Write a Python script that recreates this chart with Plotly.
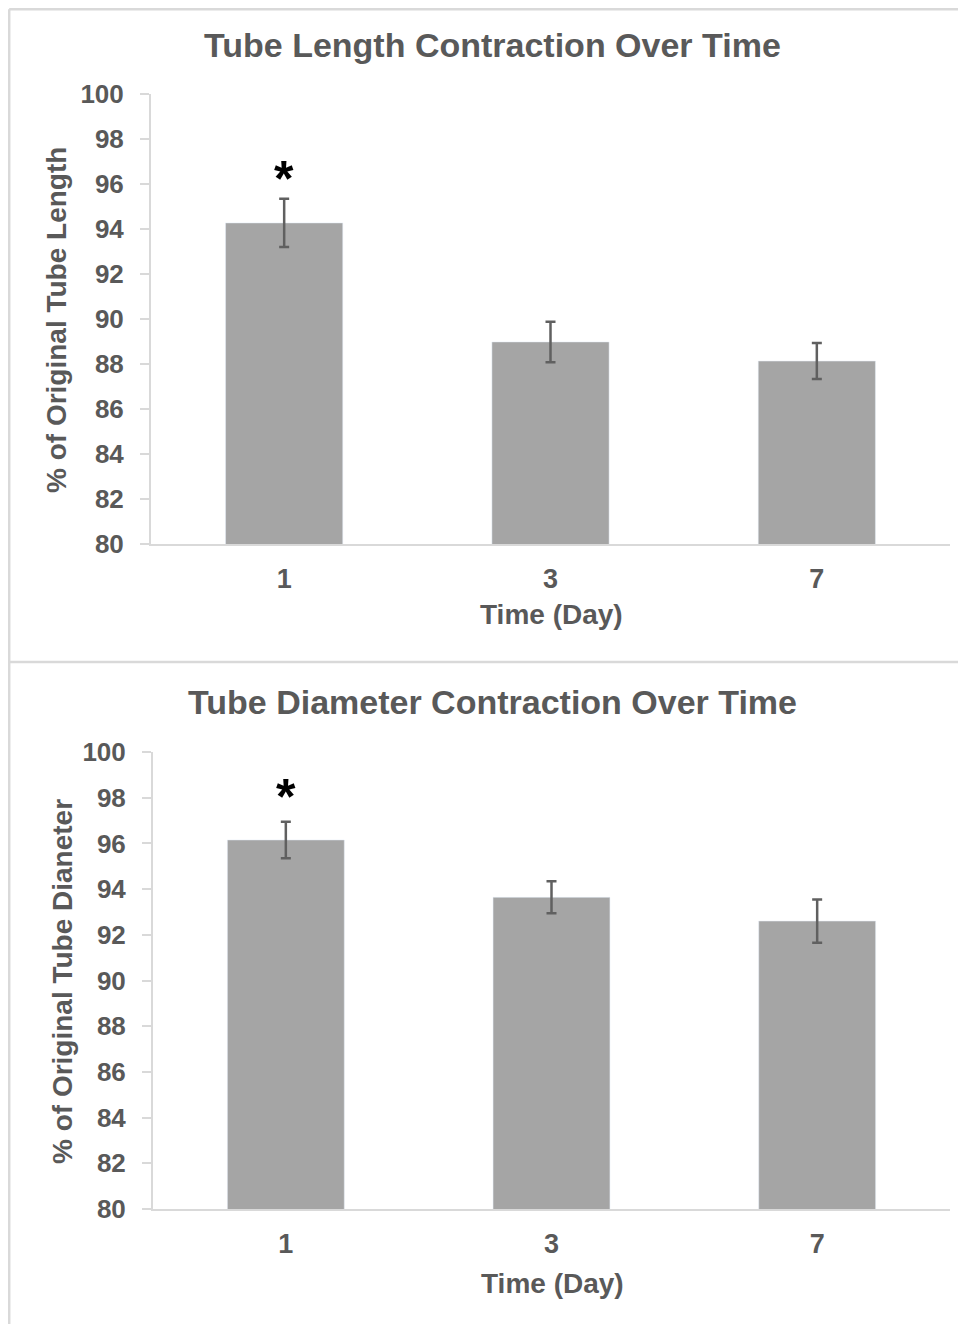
import plotly.graph_objects as go

days = ["1", "3", "7"]
length_pct = [94.27, 88.98, 88.13]
length_err = [1.07, 0.9, 0.8]
diam_pct = [96.15, 93.64, 92.6]
diam_err = [0.8, 0.7, 0.95]
y_ticks = [80, 82, 84, 86, 88, 90, 92, 94, 96, 98, 100]
sig_day = "1"

W, H = 966, 1324
OFF = 8  # page body margin
FONT = "Liberation Sans, Arial, sans-serif"
TXT = "#595959"
BAR = "#a5a5a5"
LINE = "#d9d9d9"
ERR = "#606060"


def px_x(x):
    return (x - OFF) / W


def px_y(y):
    return 1 - (y - OFF) / H


fig = go.Figure()
fig.add_trace(go.Bar(
    x=days, y=length_pct, marker_color=BAR, width=0.44,
    error_y=dict(type="data", array=length_err, color=ERR, thickness=2.5, width=5),
    xaxis="x", yaxis="y", showlegend=False))
fig.add_trace(go.Bar(
    x=days, y=diam_pct, marker_color=BAR, width=0.44,
    error_y=dict(type="data", array=diam_err, color=ERR, thickness=2.5, width=5),
    xaxis="x2", yaxis="y2", showlegend=False))

axis_y = dict(
    range=[80, 100], tickvals=y_ticks, showgrid=False, zeroline=False, automargin=False,
    showline=True, linecolor=LINE, linewidth=2,
    ticks="outside", ticklen=9, tickcolor=LINE, tickwidth=2,
    tickfont=dict(family=FONT, size=26, color=TXT, weight="bold"),
    ticklabelstandoff=11,
)
axis_x = dict(
    showgrid=False, zeroline=False, showline=True, linecolor=LINE, linewidth=2, automargin=False,
    ticks="", tickfont=dict(family=FONT, size=27, color=TXT, weight="bold"),
    ticklabelstandoff=10, type="category",
)

fig.update_layout(
    width=W, height=H, margin=dict(l=0, r=0, t=0, b=0, autoexpand=False),
    plot_bgcolor="white", paper_bgcolor="white", bargap=0.56,
    xaxis=dict(domain=[px_x(151), px_x(950)], anchor="y", **axis_x),
    yaxis=dict(domain=[px_y(544), px_y(94)], anchor="x", **axis_y),
    xaxis2=dict(domain=[px_x(153), px_x(950)], anchor="y2", **axis_x),
    yaxis2=dict(domain=[px_y(1209), px_y(752)], anchor="x2", **axis_y),
)

edge_top = 1 - 1.2 / H
edge_left = 1.2 / W
shapes = [
    dict(type="line", xref="paper", yref="paper", x0=edge_left, x1=1, y0=edge_top, y1=edge_top,
         line=dict(color=LINE, width=2.5)),
    dict(type="line", xref="paper", yref="paper", x0=edge_left, x1=1, y0=px_y(662), y1=px_y(662),
         line=dict(color=LINE, width=2.5)),
    dict(type="line", xref="paper", yref="paper", x0=edge_left, x1=edge_left, y0=edge_top, y1=0,
         line=dict(color=LINE, width=2.5)),
]
fig.update_layout(shapes=shapes)

ann = []


def txt(x, y, s, size, angle=0):
    ann.append(dict(xref="paper", yref="paper", x=px_x(x), y=px_y(y), text=s, showarrow=False,
                    textangle=angle, xanchor="center", yanchor="middle",
                    font=dict(family=FONT, size=size, color=TXT, weight="bold")))


txt(492, 45, "Tube Length Contraction Over Time", 34)
txt(551, 615, "Time (Day)", 28)
txt(56, 320, "% of Original Tube Length", 28, angle=-90)
txt(492, 702, "Tube Diameter Contraction Over Time", 34)
txt(552, 1283, "Time (Day)", 28)
txt(62, 982, "% of Original Tube Dianeter", 28, angle=-90)

i = days.index(sig_day)
ann.append(dict(xref="x", yref="y", x=i, y=length_pct[i] + length_err[i], yshift=20,
                text="*", showarrow=False, yanchor="middle",
                font=dict(family=FONT, size=50, color="black", weight="bold")))
ann.append(dict(xref="x2", yref="y2", x=i, y=diam_pct[i] + diam_err[i], yshift=25,
                text="*", showarrow=False, yanchor="middle",
                font=dict(family=FONT, size=50, color="black", weight="bold")))
fig.update_layout(annotations=ann)

fig.write_html("out.html")
